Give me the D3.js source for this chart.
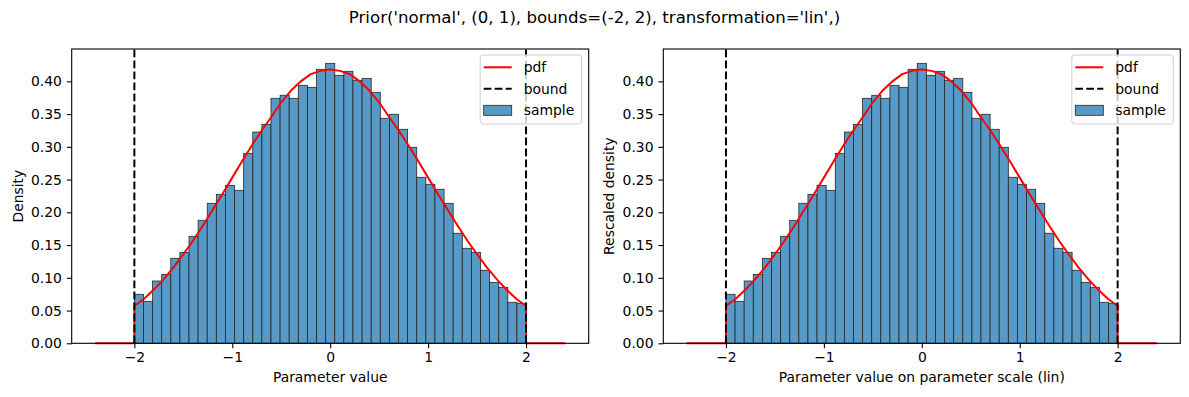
<!DOCTYPE html>
<html>
<head>
<meta charset="utf-8">
<script src="https://cdn.jsdelivr.net/npm/d3@7"></script>
<style>
  body { margin: 0; background: #fff; }
  svg { display: block; font-family: "DejaVu Sans", sans-serif; }
</style>
</head>
<body>
<div class="chart"></div>
<script>

// Histogram of the sample (density), 43 equal bins between the bounds
var binRange = [-2, 2];
var sampleDensity = [
    0.0748, 0.0641, 0.0951, 0.1053, 0.1298, 0.1389, 0.1634, 0.1878, 0.2138, 0.2275,
    0.2412, 0.2336, 0.2901, 0.3226, 0.3344, 0.3741, 0.3787, 0.3741, 0.3939, 0.3909,
    0.4184, 0.4275, 0.4092, 0.4153, 0.4016, 0.4046, 0.3833, 0.3436, 0.3497, 0.3268,
    0.2993, 0.2535, 0.2428, 0.2352, 0.2138, 0.1680, 0.1451, 0.1389, 0.1115, 0.0931,
    0.0855, 0.0626, 0.0611
];

// Prior pdf
var pdfX = [-2.4, -2.0, -2.0, -1.9, -1.8, -1.7, -1.6, -1.5, -1.4, -1.3, -1.2, -1.1,
            -1.0, -0.9, -0.8, -0.7, -0.6, -0.5, -0.4, -0.3, -0.2, -0.1, 0.0,
            0.1, 0.2, 0.3, 0.4, 0.5, 0.6, 0.7, 0.8, 0.9, 1.0, 1.1, 1.2, 1.3,
            1.4, 1.5, 1.6, 1.7, 1.8, 1.9, 2.0, 2.0, 2.4];
var pdfY = [0, 0, 0.057, 0.068, 0.082, 0.098, 0.116, 0.136, 0.157, 0.180, 0.204, 0.228,
            0.253, 0.278, 0.302, 0.325, 0.346, 0.368, 0.386, 0.400, 0.411, 0.416, 0.418,
            0.416, 0.411, 0.400, 0.386, 0.368, 0.346, 0.325, 0.302, 0.278, 0.253, 0.228,
            0.204, 0.180, 0.157, 0.136, 0.116, 0.098, 0.082, 0.068, 0.057, 0, 0];

var bounds = [-2, 2];
var xTicks = [-2, -1, 0, 1, 2];
var yTicks = [0, 0.05, 0.10, 0.15, 0.20, 0.25, 0.30, 0.35, 0.40];
var legendLabels = ["pdf", "bound", "sample"];
var titleText = "Prior('normal', (0, 1), bounds=(-2, 2), transformation='lin',)";
var panels = [
    { xlabel: "Parameter value", ylabel: "Density", left: 71.7 },
    { xlabel: "Parameter value on parameter scale (lin)", ylabel: "Rescaled density", left: 663.3 }
];

var W = 1189, H = 397;
var plotTop = 49, plotBottom = 343.3, plotW = 517;
var barColor = "#5799c7";

var svg = d3.select(".chart")
    .append("svg")
      .attr("width", W)
      .attr("height", H);

svg.append("text")
    .attr("x", W / 2)
    .attr("y", 23)
    .attr("text-anchor", "middle")
    .style("font-size", "16.6px")
    .text(titleText);

var binW = (binRange[1] - binRange[0]) / sampleDensity.length;
var bins = sampleDensity.map(function(d, i) {
    return { x0: binRange[0] + i * binW, x1: binRange[0] + (i + 1) * binW, v: d };
});

panels.forEach(function(p) {

    var g = svg.append("g")
        .attr("transform", "translate(" + p.left + "," + plotTop + ")");

    var h = plotBottom - plotTop;

    var x = d3.scaleLinear()
        .domain([-2.64, 2.64])
        .range([0, plotW]);

    var y = d3.scaleLinear()
        .domain([0, 0.4494])
        .range([h, 0]);

    // bars
    g.selectAll(".bar")
        .data(bins)
        .enter().append("rect")
          .attr("class", "bar")
          .attr("x", function(d) { return x(d.x0); })
          .attr("y", function(d) { return y(d.v); })
          .attr("width", function(d) { return x(d.x1) - x(d.x0); })
          .attr("height", function(d) { return h - y(d.v); })
          .style("fill", barColor)
          .style("stroke", "#262626")
          .style("stroke-width", 0.8);

    // pdf
    var line = d3.line()
        .x(function(d, i) { return x(pdfX[i]); })
        .y(function(d) { return y(d); });

    g.append("path")
        .datum(pdfY)
        .attr("d", line)
        .style("fill", "none")
        .style("stroke", "red")
        .style("stroke-width", 2)
        .style("stroke-linejoin", "round");

    // bounds
    g.selectAll(".bound")
        .data(bounds)
        .enter().append("line")
          .attr("class", "bound")
          .attr("x1", function(d) { return x(d); })
          .attr("x2", function(d) { return x(d); })
          .attr("y1", h)
          .attr("y2", 0)
          .style("stroke", "black")
          .style("stroke-width", 2)
          .style("stroke-dasharray", "7.7,3.3");

    // axes
    var xAxis = d3.axisBottom(x)
        .tickValues(xTicks)
        .tickSize(4.9)
        .tickPadding(3.5)
        .tickFormat(function(d) { return d < 0 ? "\u2212" + Math.abs(d) : d; });

    var yAxis = d3.axisLeft(y)
        .tickValues(yTicks)
        .tickSize(4.9)
        .tickPadding(4.9)
        .tickFormat(d3.format(".2f"));

    var gx = g.append("g")
        .attr("transform", "translate(0," + h + ")")
        .call(xAxis);
    var gy = g.append("g")
        .call(yAxis);

    [gx, gy].forEach(function(a) {
        a.select(".domain").remove();
        a.selectAll("text")
            .style("font-size", "13.9px")
            .style("font-family", "DejaVu Sans")
            .attr("fill", "#000");
        a.selectAll("line").style("stroke", "#000").style("stroke-width", 1.1);
    });

    // frame
    g.append("rect")
        .attr("width", plotW)
        .attr("height", h)
        .style("fill", "none")
        .style("stroke", "#000")
        .style("stroke-width", 1.1);

    g.append("text")
        .attr("x", plotW / 2)
        .attr("y", h + 39)
        .attr("text-anchor", "middle")
        .style("font-size", "13.9px")
        .text(p.xlabel);

    g.append("text")
        .attr("transform", "translate(-49," + h / 2 + ") rotate(-90)")
        .attr("text-anchor", "middle")
        .style("font-size", "13.9px")
        .text(p.ylabel);

    // legend
    var lg = g.append("g")
        .attr("transform", "translate(" + (plotW - 108.5) + ",6)");

    lg.append("rect")
        .attr("width", 101.5)
        .attr("height", 69)
        .attr("rx", 3)
        .style("fill", "white")
        .style("fill-opacity", 0.8)
        .style("stroke", "#d0d0d0")
        .style("stroke-width", 1);

    legendLabels.forEach(function(lab, i) {
        var cy = 12.3 + i * 21.5;
        if (i == 0 || i == 1) {
            lg.append("line")
                .attr("x1", 3.5).attr("x2", 31.5)
                .attr("y1", cy).attr("y2", cy)
                .style("stroke", i == 0 ? "red" : "black")
                .style("stroke-width", 2)
                .style("stroke-dasharray", i == 1 ? "7.7,3.3" : null);
        } else {
            lg.append("rect")
                .attr("x", 3.5).attr("y", cy - 5)
                .attr("width", 28).attr("height", 10)
                .style("fill", barColor)
                .style("stroke", "#262626")
                .style("stroke-width", 0.8);
        }
        lg.append("text")
            .attr("x", 43.5)
            .attr("y", cy + 5)
            .style("font-size", "13.9px")
            .text(lab);
    });
});

</script>
</body>
</html>
